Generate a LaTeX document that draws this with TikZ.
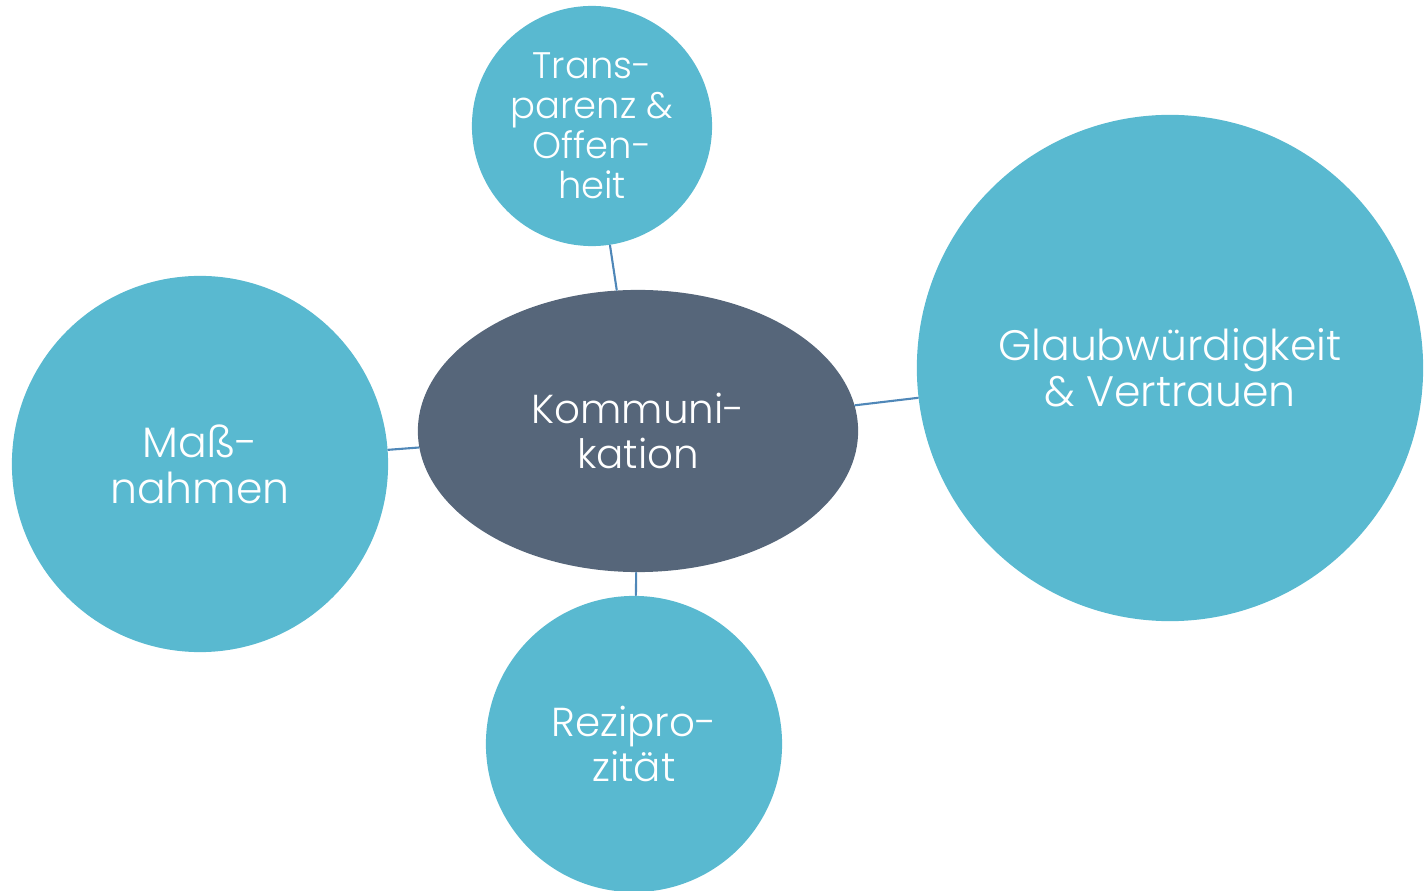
\documentclass[tikz,border=0pt]{standalone}
\usepackage{fontspec}
\setmainfont{Poppins Light}
\usepackage{xcolor}
\usepackage{tikz}
\usetikzlibrary{shapes.geometric}
\definecolor{kmBubble}{HTML}{59B9D0}
\definecolor{kmCore}{HTML}{56667A}
\definecolor{kmLink}{HTML}{4F87B8}
\tikzset{
  km diagram/.style={x=0.01cm, y=-0.01cm, text=white,
    line cap=round, line join=round},
  km bubble/.style={circle, fill=kmBubble, align=center, inner sep=0pt},
  km core/.style={ellipse, fill=kmCore, align=center, inner sep=0pt,
    minimum width=4.4cm, minimum height=2.82cm},
  km link/.style={draw=kmLink, line width=0.6pt},
  km text/.style={font=\fontsize{11.5}{12.6}\selectfont},
  km large/.style={font=\fontsize{12.1}{13.1}\selectfont},
  km small/.style={font=\fontsize{10.5}{11.4}\selectfont}
}
\begin{document}
\begin{tikzpicture}[km diagram]
\useasboundingbox (0,0) rectangle (1426,891);
\node[km core, km text] (komm) at (638,431) {Kommuni-\\kation};
\node[km bubble, km small, minimum size=2.4cm] (transparenz) at (592,126) {Trans-\\parenz \&\\Offen-\\heit};
\node[km bubble, km large, minimum size=5.06cm] (glaub) at (1170,368) {Glaubwürdigkeit\\\& Vertrauen};
\node[km bubble, km large, minimum size=3.76cm] (massnahmen) at (200,464) {Maß-\\nahmen};
\node[km bubble, km text, minimum size=2.96cm] (rezi) at (634,744) {Rezipro-\\zität};
\draw[km link] (transparenz) -- (komm);
\draw[km link] (komm) -- (glaub);
\draw[km link] (massnahmen) -- (komm);
\draw[km link] (komm) -- (rezi);
\end{tikzpicture}
\end{document}
